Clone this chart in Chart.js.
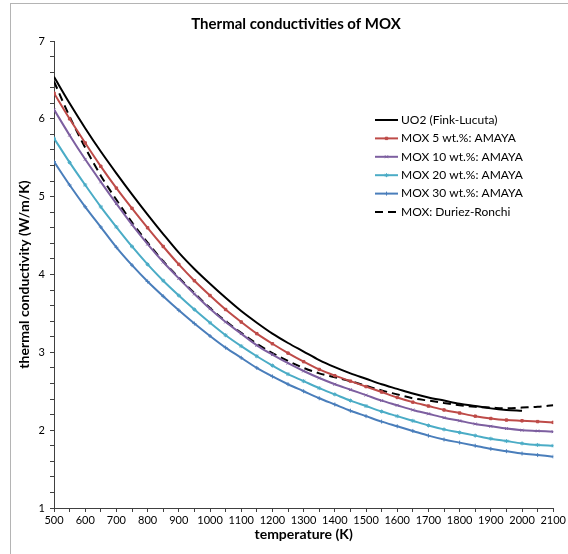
<!DOCTYPE html>
<html>
<head>
<meta charset="utf-8">
<script src="https://cdn.jsdelivr.net/npm/chart.js@4.4.1/dist/chart.umd.min.js"></script>
<style>
  body { margin: 0; background: #fff; }
  #wrap { position: relative; width: 568px; height: 554px; }
  #frame { position: absolute; left: 10px; top: 3px; right: 0; bottom: 0;
           border-top: 1px solid #b4b4b4; border-left: 1px solid #b4b4b4; pointer-events: none; }
</style>
</head>
<body>
<div id="wrap">
  <canvas id="chart" width="568" height="554"></canvas>
  <div id="frame"></div>
</div>
<script>
//-----------------------------------------------------------------------------
// data, every 50 K
//-----------------------------------------------------------------------------
const temps  = [500,550,600,650,700,750,800,850,900,950,1000,1050,1100,1150,1200,1250,1300,
                1350,1400,1450,1500,1550,1600,1650,1700,1750,1800,1850,1900,1950,2000,2050,2100];
// UO2 stops at 2000 K
const uo2    = [6.54,6.20,5.88,5.58,5.30,5.03,4.77,4.52,4.28,4.07,3.88,3.70,3.53,3.38,3.24,3.12,3.01,
                2.90,2.81,2.73,2.66,2.59,2.53,2.47,2.42,2.38,2.34,2.31,2.28,2.26,2.25];
const mox5   = [6.33,6.00,5.69,5.39,5.11,4.85,4.60,4.36,4.13,3.92,3.73,3.55,3.39,3.24,3.11,2.99,2.88,
                2.78,2.70,2.63,2.56,2.49,2.42,2.36,2.31,2.26,2.22,2.18,2.15,2.13,2.12,2.11,2.10];
const mox10  = [6.12,5.79,5.48,5.19,4.91,4.64,4.39,4.16,3.95,3.75,3.56,3.39,3.24,3.09,2.97,2.86,2.76,
                2.67,2.59,2.52,2.45,2.38,2.32,2.26,2.21,2.16,2.12,2.08,2.05,2.02,2.00,1.99,1.98];
const mox20  = [5.75,5.44,5.15,4.87,4.61,4.36,4.13,3.92,3.73,3.55,3.38,3.22,3.08,2.95,2.83,2.72,2.63,
                2.54,2.46,2.38,2.31,2.24,2.18,2.12,2.06,2.01,1.97,1.93,1.89,1.86,1.83,1.81,1.80];
const mox30  = [5.45,5.15,4.87,4.61,4.35,4.12,3.91,3.72,3.54,3.37,3.21,3.06,2.93,2.80,2.69,2.59,2.50,
                2.41,2.33,2.25,2.18,2.11,2.05,1.99,1.93,1.88,1.84,1.80,1.76,1.73,1.70,1.68,1.66];
const duriez = [6.48,6.03,5.63,5.27,4.96,4.67,4.41,4.17,3.96,3.76,3.57,3.40,3.25,3.11,2.99,2.89,2.80,
                2.73,2.68,2.63,2.57,2.51,2.46,2.41,2.38,2.35,2.32,2.30,2.29,2.28,2.29,2.30,2.32];

const seriesNames = ["UO2 (Fink-Lucuta)", "MOX 5 wt.%: AMAYA", "MOX 10 wt.%: AMAYA",
                     "MOX 20 wt.%: AMAYA", "MOX 30 wt.%: AMAYA", "MOX: Duriez-Ronchi"];
const chartTitle = "Thermal conductivities of MOX";
const xTitle = "temperature (K)";
const yTitle = "thermal conductivity (W/m/K)";

const FONT = "Lato, 'Liberation Sans', sans-serif";

function points(values){
    return values.map((v, i) => ({x: temps[i], y: v}));
}

function series(label, values, color, extra){
    return Object.assign({
        label: label,
        data: points(values),
        borderColor: color,
        backgroundColor: color,
        borderWidth: 2,
        pointRadius: 0,
        pointHoverRadius: 0,
        pointBorderWidth: 1,
        cubicInterpolationMode: "monotone",
        fill: false
    }, extra || {});
}

//-----------------------------------------------------------------------------
// title + legend drawn inside the plot like the excel original
//-----------------------------------------------------------------------------
const titlePlugin = {
    id: "topTitle",
    afterDraw(chart){
        const ctx = chart.ctx;
        ctx.save();
        ctx.font = `bold 15px ${FONT}`;
        ctx.fillStyle = "#000";
        ctx.textAlign = "center";
        ctx.textBaseline = "middle";
        ctx.fillText(chartTitle, 296, 24);
        ctx.restore();
    }
};

const legendPlugin = {
    id: "insideLegend",
    afterDraw(chart){
        const ctx = chart.ctx;
        const x0 = 375, x1 = 398, top = 120, rowH = 18.4;
        ctx.save();
        ctx.font = `12px ${FONT}`;
        ctx.textBaseline = "middle";
        ctx.textAlign = "left";
        chart.data.datasets.forEach((ds, i) => {
            const y = top + i * rowH;
            ctx.strokeStyle = ds.borderColor;
            ctx.fillStyle = ds.borderColor;
            ctx.lineWidth = ds.borderWidth;
            ctx.setLineDash(ds.borderDash || []);
            ctx.beginPath();
            ctx.moveTo(x0, y);
            ctx.lineTo(x1, y);
            ctx.stroke();
            ctx.setLineDash([]);
            if (ds.pointRadius > 0){
                ctx.lineWidth = 1;
                Chart.helpers.drawPoint(ctx, {
                    pointStyle: ds.pointStyle, radius: ds.pointRadius,
                    borderWidth: 1, rotation: 0
                }, (x0 + x1) / 2, y);
            }
            ctx.fillStyle = "#000";
            ctx.fillText(ds.label, 401, y);
        });
        ctx.restore();
    }
};

const ctx = document.getElementById("chart").getContext("2d");
const chart = new Chart(ctx, {
    type: "line",
    data: {
        datasets: [
            series(seriesNames[0], uo2,    "#000000"),
            series(seriesNames[1], mox5,   "#BE4B48", {pointRadius: 1.7, pointStyle: "rect"}),
            series(seriesNames[2], mox10,  "#7D5FA0", {pointRadius: 2, pointStyle: "crossRot"}),
            series(seriesNames[3], mox20,  "#4BACC6", {pointRadius: 2, pointStyle: "star"}),
            series(seriesNames[4], mox30,  "#4A7EBB", {pointRadius: 2, pointStyle: "cross"}),
            series(seriesNames[5], duriez, "#000000", {borderDash: [8, 5]})
        ]
    },
    options: {
        responsive: false,
        animation: false,
        layout: { padding: { left: 0, right: 12, top: 41, bottom: 0 } },
        plugins: {
            legend: { display: false },
            title: { display: false },
            tooltip: { enabled: false }
        },
        scales: {
            x: {
                type: "linear",
                min: 500,
                max: 2100,
                afterFit: scale => { scale.height = 46; },
                border: { display: true, color: "#404040", width: 1 },
                grid: { drawOnChartArea: false, drawTicks: true, tickLength: 4, tickColor: "#404040" },
                ticks: {
                    stepSize: 50,
                    autoSkip: false,
                    maxRotation: 0,
                    padding: 2,
                    color: "#000",
                    font: { family: FONT, size: 11 },
                    callback: v => (Math.round(v) % 100 === 0 ? String(Math.round(v)) : "")
                },
                title: {
                    display: true,
                    text: xTitle,
                    color: "#000",
                    font: { family: FONT, size: 14, weight: "bold" },
                    padding: { top: 0, bottom: 11 }
                }
            },
            y: {
                min: 1,
                max: 7,
                afterFit: scale => { scale.width = 54; },
                border: { display: true, color: "#404040", width: 1 },
                grid: { drawOnChartArea: false, drawTicks: true, tickLength: 4, tickColor: "#404040" },
                ticks: {
                    stepSize: 0.2,
                    autoSkip: false,
                    padding: 5,
                    color: "#000",
                    font: { family: FONT, size: 11 },
                    callback: v => (Math.abs(v - Math.round(v)) < 1e-6 ? String(Math.round(v)) : "")
                },
                title: {
                    display: true,
                    text: yTitle,
                    color: "#000",
                    font: { family: FONT, size: 14, weight: "bold" },
                    padding: { top: 16, bottom: 0 }
                }
            }
        }
    },
    plugins: [titlePlugin, legendPlugin]
});
</script>
</body>
</html>
